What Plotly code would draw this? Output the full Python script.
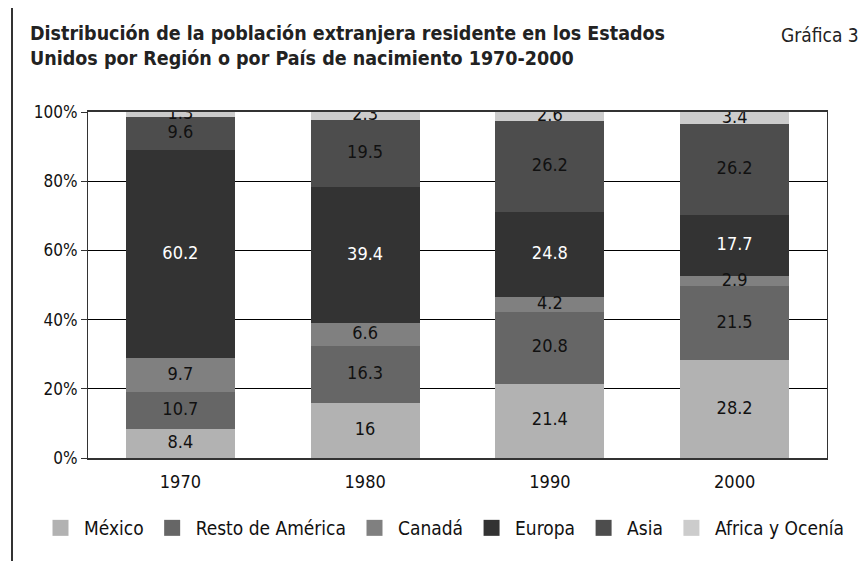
import plotly.graph_objects as go

years = ["1970", "1980", "1990", "2000"]
series_names = ["México", "Resto de América", "Canadá", "Europa", "Asia", "Africa y Ocenía"]
mexico = [8.4, 16, 21.4, 28.2]
resto_america = [10.7, 16.3, 20.8, 21.5]
canada = [9.7, 6.6, 4.2, 2.9]
europa = [60.2, 39.4, 24.8, 17.7]
asia = [9.6, 19.5, 26.2, 26.2]
africa_oceania = [1.3, 2.3, 2.6, 3.4]
y_ticks = [0, 20, 40, 60, 80, 100]
y_tick_labels = ["0%", "20%", "40%", "60%", "80%", "100%"]

series_values = [mexico, resto_america, canada, europa, asia, africa_oceania]
colors = ["#b2b2b2", "#666666", "#808080", "#333333", "#4d4d4d", "#cccccc"]
label_colors = ["#111111", "#111111", "#111111", "#ffffff", "#111111", "#111111"]

FONT = "DejaVu Sans Condensed"
W, H = 867, 561
OFF = 8  # margen por defecto del <body> en la página
L, R, T, B = 80, 48, 104, 111
pw, ph = W - L - R, H - T - B


# posiciones en pixeles de pantalla -> coordenadas paper
def px_x(p):
    return (p - OFF - L) / pw


def px_y(p):
    return (H - B - (p - OFF)) / ph


fig = go.Figure()

# barras apiladas
for name, vals, col in zip(series_names, series_values, colors):
    fig.add_trace(go.Bar(
        x=years, y=vals, name=name,
        marker=dict(color=col, line=dict(width=0)),
        showlegend=False, hoverinfo="skip",
    ))

# etiquetas centradas en cada segmento
base = [0.0] * len(years)
for vals, tc in zip(series_values, label_colors):
    mids = [b + v / 2 for b, v in zip(base, vals)]
    fig.add_trace(go.Scatter(
        x=years, y=mids, mode="text",
        text=[f"{v:g}" for v in vals],
        textfont=dict(family=FONT, size=18, color=tc),
        showlegend=False, hoverinfo="skip",
    ))
    base = [b + v for b, v in zip(base, vals)]

# leyenda con cuadros grandes
for name, col in zip(series_names, colors):
    fig.add_trace(go.Scatter(
        x=[None], y=[None], mode="markers", name=name,
        marker=dict(symbol="square", size=16, color=col),
    ))

fig.update_layout(
    width=W, height=H,
    margin=dict(l=L, r=R, t=T, b=B),
    paper_bgcolor="white", plot_bgcolor="white",
    barmode="stack", bargap=0.41,
    font=dict(family=FONT, size=16, color="#111111"),
    title=dict(
        text="<b>Distribución de la población extranjera residente en los Estados<br>"
             "Unidos por Región o por País de nacimiento 1970-2000</b>",
        xref="container", yref="container",
        x=(30 - OFF) / W, y=1 - (40 - OFF) / H,
        xanchor="left", yanchor="top",
        font=dict(family=FONT, size=19.5, color="#222222"),
    ),
    legend=dict(
        orientation="h", x=px_x(37), xanchor="left", y=px_y(528), yanchor="middle",
        font=dict(family=FONT, size=19, color="#111111"),
        itemsizing="trace", itemwidth=37, traceorder="normal",
    ),
    annotations=[dict(
        text="Gráfica 3", xref="paper", yref="paper",
        x=px_x(861), y=px_y(22), xanchor="right", yanchor="top",
        showarrow=False, font=dict(family=FONT, size=19, color="#222222"),
    )],
    shapes=[
        dict(type="line", xref="paper", yref="paper",
             x0=px_x(12), x1=px_x(12), y0=px_y(6), y1=px_y(H + 20),
             line=dict(color="#333333", width=2)),
        dict(type="line", xref="paper", yref="paper",
             x0=px_x(12), x1=px_x(W + 20), y0=px_y(6), y1=px_y(6),
             line=dict(color="#333333", width=2)),
    ],
)

fig.update_yaxes(
    range=[0, 100], tickvals=y_ticks, ticktext=y_tick_labels,
    showgrid=True, gridcolor="#000000", gridwidth=1,
    showline=True, linecolor="#333333", linewidth=1, mirror=True,
    ticks="outside", ticklen=6, tickcolor="#333333",
    tickfont=dict(family=FONT, size=17), zeroline=False,
)
fig.update_xaxes(
    showline=True, linecolor="#333333", linewidth=2, mirror=True,
    ticks="", tickfont=dict(family=FONT, size=18), ticklabelstandoff=6,
)

fig.write_html("out.html")
